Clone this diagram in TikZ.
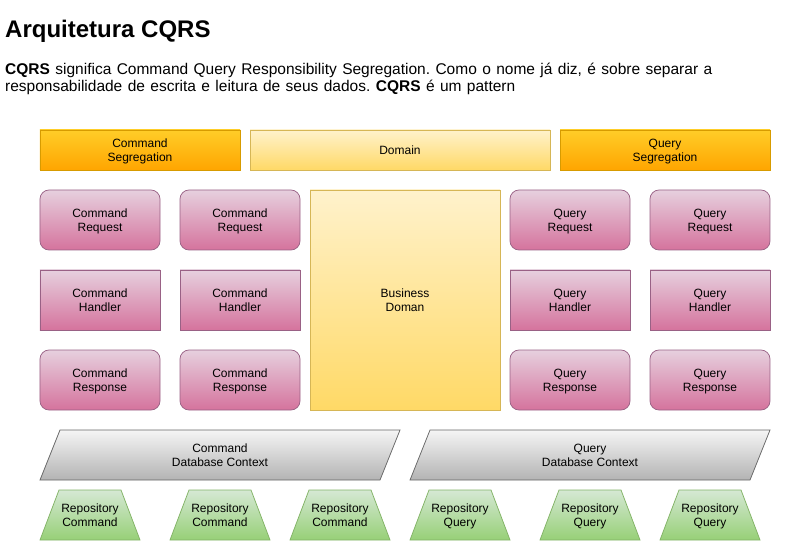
\documentclass[tikz,border=0pt]{standalone}
\usepackage{fontspec}
\setmainfont{Liberation Sans}
\usepackage{tikz}
\usetikzlibrary{positioning}

\definecolor{segtop}{HTML}{FFCD28}
\definecolor{segbot}{HTML}{FFA500}
\definecolor{segline}{HTML}{D79B00}
\definecolor{domtop}{HTML}{FFF2CC}
\definecolor{dombot}{HTML}{FFD966}
\definecolor{domline}{HTML}{D6B656}
\definecolor{pinktop}{HTML}{E6D0DE}
\definecolor{pinkbot}{HTML}{D5739D}
\definecolor{pinkline}{HTML}{996185}
\definecolor{graytop}{HTML}{F5F5F5}
\definecolor{graybot}{HTML}{B3B3B3}
\definecolor{grayline}{HTML}{666666}
\definecolor{greentop}{HTML}{D5E8D4}
\definecolor{greenbot}{HTML}{97D077}
\definecolor{greenline}{HTML}{82B366}

\newcommand{\introfont}{\fontsize{15.5bp}{17bp}\selectfont\spaceskip 5.4bp\relax}

\begin{document}
\frenchspacing
\begin{tikzpicture}[x=1bp, y=-1bp]
        \tikzstyle{boxtext}=[align=center,inner sep=0pt,text depth=0pt,font=\fontsize{12bp}{14bp}\selectfont]
        \tikzstyle{intro}=[anchor=base west,inner sep=0pt,font=\introfont]
        \tikzstyle{box}=[boxtext,line width=0.75bp,minimum width=120bp,minimum height=60bp]
        \tikzstyle{seg}=[box,draw=segline,top color=segtop,bottom color=segbot,minimum height=40bp]
        \tikzstyle{dombox}=[box,draw=domline,top color=domtop,bottom color=dombot]
        \tikzstyle{request}=[box,draw=pinkline,top color=pinktop,bottom color=pinkbot,rounded corners=9bp]
        \tikzstyle{handler}=[box,draw=pinkline,top color=pinktop,bottom color=pinkbot]
        \tikzstyle{dbctx}=[draw=grayline,line width=0.75bp,top color=graytop,bottom color=graybot]
        \tikzstyle{repo}=[draw=greenline,line width=0.75bp,top color=greentop,bottom color=greenbot]

        \useasboundingbox (0,0) rectangle (801,541);

        % Heading and intro text
        \node[anchor=base west,inner sep=0pt,font=\fontsize{24bp}{28bp}\selectfont\bfseries] (title) at (5,37.3) {Arquitetura CQRS};
        \node[intro] (intro-1) at (5,74.3)
            {\textbf{CQRS} significa Command Query Responsibility Segregation. Como o nome já diz, é sobre separar a};
        \node[intro] (intro-2) at (5,91.2)
            {responsabilidade de escrita e leitura de seus dados. \textbf{CQRS} é um pattern};

        % Top row
        \node[seg, minimum width=200bp] (CSeg) at (140,150) {Command\\Segregation};
        \node[dombox, minimum width=300bp, minimum height=40bp] (Dom) at (400,150) {Domain};
        \node[seg, minimum width=210bp] (QSeg) at (665,150) {Query\\Segregation};

        % Command side columns
        \foreach \x / \n in {100/1, 240/2} {
            \node[request] (CReq-\n) at (\x,220) {Command\\Request};
            \node[handler] (CHan-\n) at (\x,300) {Command\\Handler};
            \node[request] (CRes-\n) at (\x,380) {Command\\Response};
        }

        % Business domain in the middle
        \node[dombox, minimum width=190bp, minimum height=220bp] (BDom) at (405,300) {Business\\Doman};

        % Query side columns
        \foreach \x / \n in {570/1, 710/2} {
            \node[request] (QReq-\n) at (\x,220) {Query\\Request};
            \node[handler] (QHan-\n) at (\x,300) {Query\\Handler};
            \node[request] (QRes-\n) at (\x,380) {Query\\Response};
        }

        % Database contexts
        \path[dbctx] (40,480) -- (60,430) -- (400,430) -- (380,480) -- cycle;
        \node[boxtext] (CDb) at (220,455) {Command\\Database Context};
        \path[dbctx] (410,480) -- (430,430) -- (770,430) -- (750,480) -- cycle;
        \node[boxtext] (QDb) at (590,455) {Query\\Database Context};

        % Repositories
        \foreach \x / \n in {90/1, 220/2, 340/3} {
            \path[repo] (\x-50,540) -- (\x-31,490) -- (\x+31,490) -- (\x+50,540) -- cycle;
            \node[boxtext] (CRep-\n) at (\x,515) {Repository\\Command};
        }
        \foreach \x / \n in {460/1, 590/2, 710/3} {
            \path[repo] (\x-50,540) -- (\x-31,490) -- (\x+31,490) -- (\x+50,540) -- cycle;
            \node[boxtext] (QRep-\n) at (\x,515) {Repository\\Query};
        }
\end{tikzpicture}
\end{document}
